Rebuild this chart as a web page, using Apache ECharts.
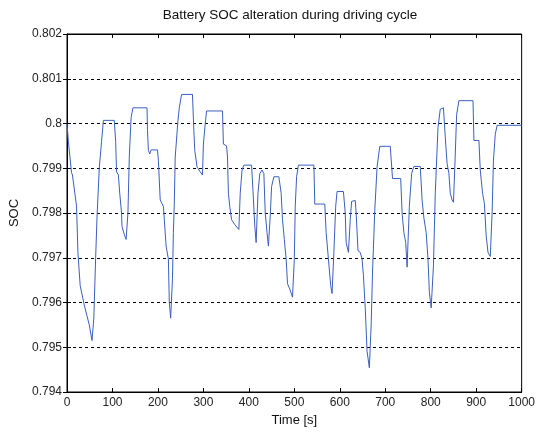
<!DOCTYPE html>
<html>
<head>
<meta charset="utf-8">
<script src="https://cdn.jsdelivr.net/npm/echarts@6/dist/echarts.min.js"></script>
<style>html,body{margin:0;padding:0;background:#fff}#c{width:538px;height:432px}</style>
</head>
<body>
<div id="c"></div>
<script>
var xTicks = [0,100,200,300,400,500,600,700,800,900,1000];
var yTicks = [0.794,0.795,0.796,0.797,0.798,0.799,0.8,0.801,0.802];
var time = [0,3,10,12,21,24,29,38,49,55,59,63,66,71,76,80,104,107,109,113,116,120,121,126,130,134,137,141,145,176,177,179,182,185,199,201,205,208,212,218,223,225,228,232,234,236,238,244,247,252,276,279,281,286,293,298,300,304,307,342,344,351,353,355,358,362,369,378,381,385,389,406,409,413,416,420,424,429,433,436,440,443,447,450,455,466,471,474,478,482,485,490,496,500,502,505,509,543,545,567,570,575,580,583,587,591,594,608,612,614,619,623,626,634,636,640,645,649,652,656,660,665,669,672,677,682,688,711,716,734,737,741,745,748,753,758,763,777,781,785,790,794,797,801,806,810,816,821,828,832,836,840,843,847,850,853,857,862,893,895,906,909,914,918,922,926,931,935,938,942,946,1000];
var soc = [0.8000,0.7996,0.7989,0.79885,0.79815,0.79712,0.79638,0.79594,0.7955,0.79515,0.79565,0.7970,0.7979,0.7990,0.7996,0.80007,0.80007,0.7996,0.79892,0.79885,0.79844,0.7980,0.7977,0.79752,0.79741,0.7980,0.79925,0.80013,0.80035,0.80035,0.79984,0.7994,0.79932,0.79941,0.79941,0.79918,0.79829,0.79826,0.79815,0.79726,0.79697,0.79601,0.79565,0.79653,0.79756,0.79822,0.79925,0.80006,0.80035,0.80065,0.80065,0.79984,0.7994,0.79903,0.79892,0.79885,0.79954,0.79999,0.80028,0.80028,0.79954,0.7995,0.79925,0.79844,0.79815,0.79785,0.79774,0.79763,0.79844,0.79896,0.79907,0.79907,0.79851,0.79771,0.79734,0.79844,0.79888,0.79896,0.79888,0.7980,0.79756,0.79726,0.79793,0.79859,0.79881,0.79881,0.79844,0.79785,0.79741,0.79697,0.79642,0.7963,0.79612,0.79697,0.79815,0.79881,0.79907,0.79907,0.7982,0.7982,0.79756,0.79697,0.79638,0.7962,0.79712,0.79815,0.79848,0.79848,0.7980,0.79734,0.79712,0.79785,0.79826,0.79828,0.7980,0.79716,0.79712,0.79697,0.7966,0.79587,0.79491,0.79454,0.7955,0.79668,0.79807,0.79903,0.79949,0.79949,0.79877,0.79877,0.7980,0.79756,0.79734,0.79679,0.79815,0.79888,0.79904,0.79904,0.79829,0.79789,0.79756,0.79697,0.79623,0.79588,0.79682,0.79844,0.79991,0.80032,0.80035,0.79969,0.79911,0.79888,0.79844,0.79829,0.79824,0.79903,0.8002,0.80051,0.80051,0.79962,0.79962,0.79896,0.79844,0.79822,0.79749,0.79712,0.79703,0.7980,0.79918,0.79976,0.79996,0.79996];

var data = time.map(function(t,i){return [t, soc[i]];});
var font = 'Liberation Sans, Arial, sans-serif';
var chart = echarts.init(document.getElementById('c'), null, {renderer:'canvas'});
var fmtY = function(v){ return String(parseFloat(v.toFixed(3))); };
var fmtX = function(v){ return String(Math.round(v)); };
chart.setOption({
  animation:false,
  backgroundColor:'#fff',
  title:{text:'Battery SOC alteration during driving cycle', left:285, top:3, textAlign:'center',
    textStyle:{fontFamily:font, fontSize:13.5, fontWeight:'normal', color:'#111'}},
  grid:{left:67, right:15, top:34, bottom:40, show:true, borderColor:'#000', borderWidth:1},
  xAxis:[{type:'value', min:xTicks[0], max:xTicks[xTicks.length-1], interval:100,
    name:'Time [s]', nameLocation:'middle', nameGap:15,
    nameTextStyle:{fontFamily:font, fontSize:13, color:'#111'},
    axisLine:{lineStyle:{color:'#000'}},
    axisTick:{inside:true, length:4, lineStyle:{color:'#000'}},
    axisLabel:{fontFamily:font, fontSize:12, color:'#222', margin:5, formatter:fmtX},
    splitLine:{show:false}},
   {type:'value', position:'top', min:xTicks[0], max:xTicks[xTicks.length-1], interval:100,
    axisLine:{lineStyle:{color:'#000'}},
    axisTick:{inside:true, length:4, lineStyle:{color:'#000'}},
    axisLabel:{show:false}, splitLine:{show:false}}],
  yAxis:[{type:'value', min:yTicks[0], max:yTicks[yTicks.length-1], interval:0.001,
    name:'SOC', nameLocation:'middle', nameGap:41, nameRotate:90,
    nameTextStyle:{fontFamily:font, fontSize:13, color:'#111'},
    axisLine:{show:true, lineStyle:{color:'#000'}},
    axisTick:{show:true, inside:true, length:4, lineStyle:{color:'#000'}},
    axisLabel:{fontFamily:font, fontSize:12, color:'#222', margin:5, formatter:fmtY},
    splitLine:{show:true, lineStyle:{color:'#000', type:[3,3], width:1}}},
   {type:'value', position:'right', min:yTicks[0], max:yTicks[yTicks.length-1], interval:0.001,
    axisLine:{show:true, lineStyle:{color:'#000'}},
    axisTick:{show:true, inside:true, length:4, lineStyle:{color:'#000'}},
    axisLabel:{show:false}, splitLine:{show:false}}],
  series:[{type:'line', data:data, showSymbol:false, symbol:'none',
    lineStyle:{color:'#3a5fc0', width:1}, xAxisIndex:0, yAxisIndex:0}]
});
</script>
</body>
</html>
